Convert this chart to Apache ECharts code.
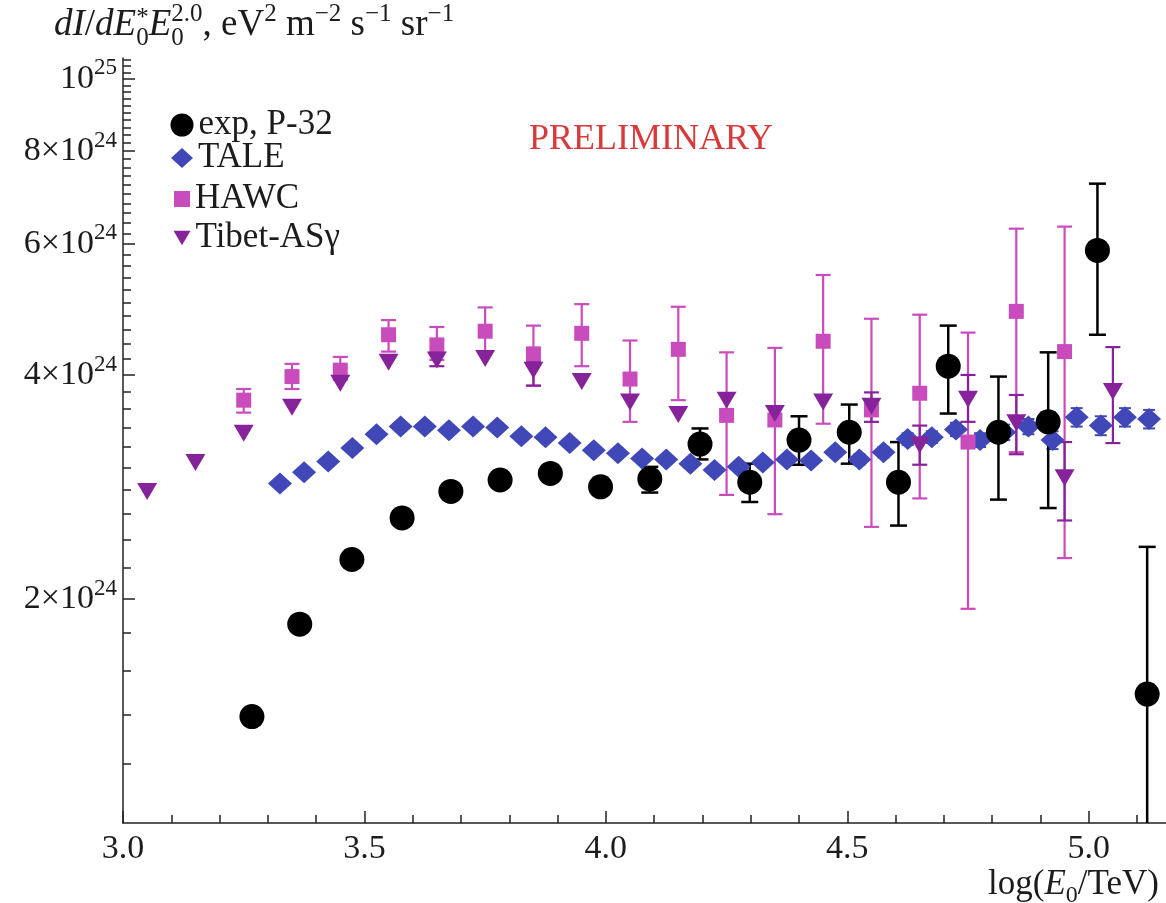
<!DOCTYPE html>
<html><head><meta charset="utf-8">
<script src="https://cdn.jsdelivr.net/npm/echarts@6/dist/echarts.min.js"></script>
<style>html,body{margin:0;padding:0;background:#fff}#chart{width:1166px;height:903px}</style>
</head><body><div id="chart"></div>
<script>
// ---------- data (flux in units of 10^24 eV^2 m^-2 s^-1 sr^-1, x = log10(E0/TeV)) ----------
const p32X    = [3.267,3.366,3.474,3.578,3.679,3.781,3.885,3.989,4.091,4.195,4.298,4.400,4.504,4.606,4.709,4.813,4.916,5.018,5.121];
const p32Flux = [1.39,1.85,2.26,2.57,2.79,2.89,2.95,2.83,2.90,3.23,2.87,3.27,3.35,2.87,4.11,3.35,3.46,5.88,1.49];
const p32Lo   = [null,null,null,null,null,null,null,null,2.78,3.08,2.70,3.03,3.04,2.51,3.55,2.72,2.65,4.53,0.90];
const p32Hi   = [null,null,null,null,null,null,null,null,3.01,3.39,3.04,3.52,3.65,3.25,4.66,3.98,4.29,7.23,2.35];

const taleX    = [3.325,3.375,3.425,3.475,3.525,3.575,3.625,3.675,3.725,3.775,3.825,3.875,3.925,3.975,4.025,4.075,4.125,4.175,4.225,4.275,4.325,4.375,4.425,4.475,4.525,4.575,4.625,4.675,4.725,4.775,4.825,4.875,4.925,4.975,5.025,5.075,5.125];
const taleFlux = [2.86,2.96,3.06,3.19,3.33,3.41,3.41,3.37,3.41,3.40,3.31,3.30,3.24,3.17,3.14,3.09,3.08,3.04,2.98,3.01,3.05,3.08,3.07,3.15,3.08,3.15,3.28,3.30,3.38,3.27,3.35,3.41,3.27,3.51,3.42,3.51,3.49];
const taleErr  = [0,0,0,0,0,0,0,0,0,0,0,0,0,0,0,0,0,0,0,0,0,0,0,0.04,0.05,0.05,0.06,0.06,0.07,0.07,0.08,0.08,0.09,0.10,0.10,0.10,0.10];

const hawcX    = [3.25,3.35,3.45,3.55,3.65,3.75,3.85,3.95,4.05,4.15,4.25,4.35,4.45,4.55,4.65,4.75,4.85,4.95];
const hawcFlux = [3.70,3.98,4.06,4.53,4.39,4.58,4.27,4.55,3.95,4.33,3.53,3.48,4.44,3.59,3.78,3.25,4.87,4.30];
const hawcLo   = [3.56,3.83,3.94,4.30,4.19,4.30,3.87,4.11,3.46,3.70,2.76,2.60,3.44,2.50,2.73,1.94,3.15,2.27];
const hawcHi   = [3.83,4.14,4.23,4.74,4.64,4.93,4.66,4.98,4.45,4.94,4.29,4.35,5.45,4.76,4.82,4.56,6.29,6.33];

const tibetX    = [3.05,3.15,3.25,3.35,3.45,3.55,3.65,3.75,3.85,3.95,4.05,4.15,4.25,4.35,4.45,4.55,4.65,4.75,4.85,4.95,5.05];
const tibetFlux = [2.79,3.05,3.34,3.62,3.90,4.16,4.19,4.21,4.06,3.92,3.68,3.54,3.70,3.55,3.68,3.63,3.22,3.71,3.45,2.91,3.80];
const tibetLo   = [null,null,null,null,null,null,4.11,null,3.87,null,null,null,null,null,null,3.46,3.03,3.46,3.13,2.55,3.24];
const tibetHi   = [null,null,null,null,null,null,4.28,null,4.17,null,null,null,null,null,null,3.79,3.42,4.00,3.76,3.25,4.36];

// tick values
const xMajorTicks = [3.0,3.5,4.0,4.5,5.0];
const xMinorTicks = [3.1,3.2,3.3,3.4,3.6,3.7,3.8,3.9,4.1,4.2,4.3,4.4,4.6,4.7,4.8,4.9,5.1];
const yMajorTicks = [2,4,6,8,10];          // ×10^24
const yMinorTicks = [1.2,1.4,1.6,1.8,2.2,2.4,2.6,2.8,3.0,3.2,3.4,3.6,3.8,4.2,4.4,4.6,4.8,5.0,5.2,5.4,5.6,5.8,
                     6.2,6.4,6.6,6.8,7.0,7.2,7.4,7.6,7.8,8.2,8.4,8.6,8.8,9.0,9.2,9.4,9.6,9.8,10.2,10.4,10.6];

// ---------- helpers ----------
const SERIF = '"Liberation Serif", "Times New Roman", serif';
const TXT = '#1c1c1c';
const lg = v => 24 + Math.log10(v);   // flux (×10^24) -> log10(flux)

function pts(xs, ys){ return xs.map((x,i)=>[x, lg(ys[i])]); }
function errs(xs, lo, hi){
  const d = [];
  xs.forEach((x,i)=>{ if(lo[i]!=null && hi[i]!=null && hi[i]>lo[i]) d.push([x, lg(lo[i]), lg(hi[i])]); });
  return d;
}
function errBar(color, lw, cap){
  return function(params, api){
    const x = api.value(0);
    const a = api.coord([x, api.value(1)]), b = api.coord([x, api.value(2)]);
    const st = {stroke: color, lineWidth: lw};
    return {type:'group', children:[
      {type:'line', shape:{x1:a[0],y1:a[1],x2:b[0],y2:b[1]}, style:st},
      {type:'line', shape:{x1:a[0]-cap/2,y1:a[1],x2:a[0]+cap/2,y2:a[1]}, style:st},
      {type:'line', shape:{x1:b[0]-cap/2,y1:b[1],x2:b[0]+cap/2,y2:b[1]}, style:st}
    ]};
  };
}
const ctx = document.createElement('canvas').getContext('2d');
function fontStr(p){ return (p.it?'italic ':'') + p.size + 'px ' + SERIF; }
function tw(p){ ctx.font = fontStr(p); return ctx.measureText(p.t).width; }
function runsWidth(runs){ return runs.reduce((s,r)=> s + Math.max(...(r.stack||[r]).map(tw)), 0); }
function layoutRuns(runs, x0, baseline, color){
  const out = []; let x = x0;
  runs.forEach(r=>{
    const parts = r.stack || [r];
    let w = 0;
    parts.forEach(p=>{
      out.push({type:'text', x:x, y: baseline + (p.dy||0) - 0.305*p.size, silent:true,
        style:{text:p.t, font:fontStr(p), fill: color || TXT, textVerticalAlign:'middle', textAlign:'left'}});
      w = Math.max(w, tw(p));
    });
    x += w;
  });
  return out;
}
const S = 34, s = 23;
function mk(size, ssize){
  return {
    R: (t, o) => Object.assign({t:t, size:size}, o||{}),
    SUB: t => ({t:t, size:ssize, dy:Math.round(size*0.24)}),
    SUP: t => ({t:t, size:ssize, dy:-Math.round(size*0.4)})
  };
}
const T = mk(37, 25);
const titleRuns = [T.R('dI',{it:true}), T.R('/'), T.R('dE',{it:true}), {stack:[T.SUB('0'), {t:'*', size:25, dy:-11}]},
  T.R('E',{it:true}), {stack:[T.SUB('0'), T.SUP('2.0')]}, T.R(', eV'), T.SUP('2'), T.R(' m'), T.SUP('\u22122'),
  T.R(' s'), T.SUP('\u22121'), T.R(' sr'), T.SUP('\u22121')];
const N = mk(35, 24);
const xNameRuns = [N.R('log('), N.R('E',{it:true}), N.SUB('0'), N.R('/TeV)')];

const C_P32 = '#000000', C_TALE = '#3f48b6', C_HAWC = '#c94cbd', C_TIBET = '#87239a';

const graphics = []
  .concat(layoutRuns(titleRuns, 54, 37))
  .concat(layoutRuns(xNameRuns, 1159 - runsWidth(xNameRuns), 895))
  .concat([{type:'text', x:651, y:140, silent:true,
     style:{text:'PRELIMINARY', font:'36px '+SERIF, fill:'#d8393b', textAlign:'center', textVerticalAlign:'middle'}}]);

const axisLineStyle = {color:'#222', width:1.5};
function legendItem(name, icon, w, h, cy, gap, color){
  return {data:[{name:name, icon:icon, itemStyle:{color:color}}], left: 182 - w/2, top: cy - 20, orient:'vertical',
    itemWidth:w, itemHeight:h, itemGap:0, itemTextGap:gap, padding:0, selectedMode:false,
    textStyle:{fontFamily:SERIF, fontSize:35, color:TXT, lineHeight:40}};
}

const option = {
  animation:false,
  backgroundColor:'#fff',
  grid:{left:123, right:0, top:58, bottom:80, containLabel:false},
  graphic: graphics,
  legend:[
    legendItem('exp, P-32','circle',23,23,125,15,C_P32),
    legendItem('TALE','diamond',22,20,158,17,C_TALE),
    legendItem('HAWC','rect',16,16,199,21,C_HAWC),
    legendItem('Tibet-AS\u03b3','path://M0,0L20,0L10,17Z',17,15,238,23,C_TIBET)
  ],
  xAxis:[
    {type:'value', min:3, max:5.16, position:'bottom',
     axisLine:{onZero:false, lineStyle:axisLineStyle},
     axisTick:{customValues:xMajorTicks, inside:true, length:12, lineStyle:axisLineStyle},
     axisLabel:{customValues:xMajorTicks, formatter:v=>Number(v).toFixed(1), fontFamily:SERIF, fontSize:S, color:TXT, margin:9},
     splitLine:{show:false}},
    {type:'value', min:3, max:5.16, position:'bottom',
     axisLine:{show:false, onZero:false},
     axisTick:{customValues:xMinorTicks, inside:true, length:8, lineStyle:axisLineStyle},
     axisLabel:{show:false}, splitLine:{show:false}}
  ],
  yAxis:[
    {type:'value', min:24, max:25.028, position:'left',
     axisLine:{onZero:false, lineStyle:axisLineStyle},
     axisTick:{customValues:yMajorTicks.map(lg), inside:true, length:12, lineStyle:axisLineStyle},
     axisLabel:{customValues:yMajorTicks.map(lg), margin:6,
       formatter:v=>{ const m = Math.round(Math.pow(10, v-24)); return m===10 ? '{b|10}{s|25}' : '{b|'+m+'\u00d710}{s|24}'; },
       rich:{ b:{fontFamily:SERIF, fontSize:S, color:TXT, lineHeight:44},
              s:{fontFamily:SERIF, fontSize:s, color:TXT, lineHeight:23, verticalAlign:'top'} }},
     splitLine:{show:false}},
    {type:'value', min:24, max:25.028, position:'left',
     axisLine:{show:false, onZero:false},
     axisTick:{customValues:yMinorTicks.map(lg), inside:true, length:8, lineStyle:axisLineStyle},
     axisLabel:{show:false}, splitLine:{show:false}}
  ],
  series:[
    {type:'custom', name:'TALE err', clip:true, renderItem:errBar(C_TALE,2,12), encode:{x:0,y:[1,2]},
     data: errs(taleX, taleFlux.map((v,i)=>v-taleErr[i]), taleFlux.map((v,i)=>v+taleErr[i])), silent:true},
    {type:'scatter', name:'TALE', symbol:'diamond', symbolSize:[24,22], itemStyle:{color:C_TALE, opacity:1}, data:pts(taleX, taleFlux)},
    {type:'custom', name:'HAWC err', clip:true, renderItem:errBar(C_HAWC,2.2,15), encode:{x:0,y:[1,2]}, data: errs(hawcX, hawcLo, hawcHi), silent:true},
    {type:'scatter', name:'HAWC', symbol:'rect', symbolSize:15, itemStyle:{color:C_HAWC, opacity:1}, data:pts(hawcX, hawcFlux)},
    {type:'custom', name:'Tibet err', clip:true, renderItem:errBar(C_TIBET,2.2,15), encode:{x:0,y:[1,2]}, data: errs(tibetX, tibetLo, tibetHi), silent:true},
    {type:'scatter', name:'Tibet-AS\u03b3', symbol:'triangle', symbolRotate:180, symbolSize:[20,17], itemStyle:{color:C_TIBET, opacity:1}, data:pts(tibetX, tibetFlux)},
    {type:'custom', name:'P32 err', clip:true, renderItem:errBar(C_P32,2.5,17), encode:{x:0,y:[1,2]}, data: errs(p32X, p32Lo, p32Hi), silent:true},
    {type:'scatter', name:'exp, P-32', symbol:'circle', symbolSize:25, itemStyle:{color:C_P32, opacity:1}, data:pts(p32X, p32Flux)}
  ]
};
const chart = echarts.init(document.getElementById('chart'), null, {renderer:'canvas'});
chart.setOption(option);
</script></body></html>
